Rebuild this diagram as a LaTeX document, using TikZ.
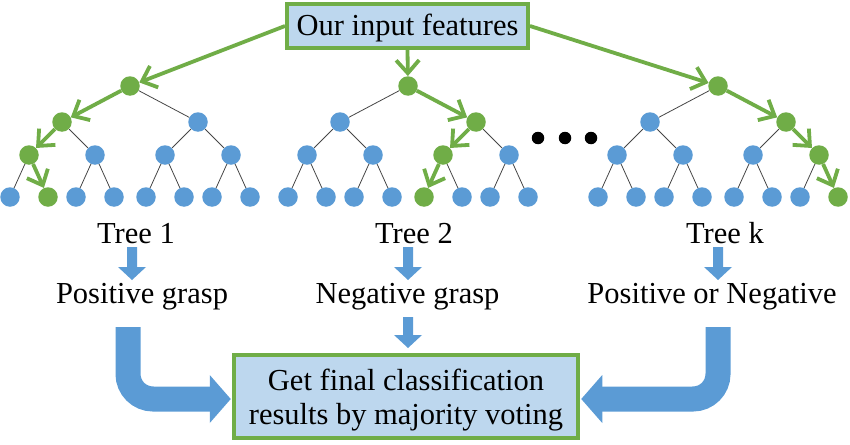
\documentclass[tikz,border=0pt]{standalone}
\usepackage{fontspec}
\setmainfont{Liberation Serif}
\usetikzlibrary{arrows.meta,calc}
\definecolor{tgreen}{RGB}{112,173,71}
\definecolor{tblue}{RGB}{91,155,213}
\definecolor{boxblue}{RGB}{189,215,238}
\definecolor{edgegray}{RGB}{70,70,70}
\newcommand\sarrow[2]{\fill[tblue] ($(#1)+(-5,0)$) -- ($(#2)+(-5,-13)$) -- ($(#2)+(-14,-13)$) -- (#2) -- ($(#2)+(14,-13)$) -- ($(#2)+(5,-13)$) -- ($(#1)+(5,0)$) -- cycle;}
\begin{document}
\begin{tikzpicture}[x=1pt,y=-1pt,
  tn/.style={circle,inner sep=0pt,minimum size=19.5pt,draw=none},
  tedge/.style={draw=edgegray,line width=0.8pt},
  garrow/.style={draw=tgreen,line width=3.8pt,-{Straight Barb[length=13pt,width=23pt]}},
  lbl/.style={font=\fontsize{30.5pt}{34pt}\selectfont,inner sep=0pt,anchor=base},
  inbox/.style={draw=tgreen,line width=4pt,fill=boxblue,minimum width=241pt,minimum height=44pt,
    inner sep=0pt,text height=21pt,text depth=1pt,font=\fontsize{30.5pt}{34pt}\selectfont},
  outbox/.style={draw=tgreen,line width=4.5pt,fill=boxblue,minimum width=344pt,minimum height=83pt,
    inner sep=0pt,align=center,text height=55pt,text depth=0pt,font=\fontsize{30.5pt}{34pt}\selectfont},
  bigshaft/.style={draw=tblue,line width=25pt,rounded corners=25pt},
  dot/.style={circle,fill=black,inner sep=0pt,minimum size=12.5pt}
]
\useasboundingbox (0,0) rectangle (850,444);

% input box
\node[inbox] (in) at (407.5,26) {Our input features};

% trees
\foreach \tr/\rx/\ga/\gb/\gc in {1/130/2/4/9, 2/408/3/6/12, k/718/3/7/15}{
  \foreach \i/\dx/\yy in {1/0/86, 2/-68/122, 3/68/122, 4/-101/155, 5/-35/155, 6/35/155, 7/101/155,
     8/-120/197, 9/-82/197, 10/-54/197, 11/-16/197, 12/16/197, 13/54/197, 14/82/197, 15/120/197}{
    \def\col{tblue}
    \ifnum\i=1 \def\col{tgreen}\fi
    \ifnum\i=\ga \def\col{tgreen}\fi
    \ifnum\i=\gb \def\col{tgreen}\fi
    \ifnum\i=\gc \def\col{tgreen}\fi
    \node[tn,fill=\col] (t\tr-\i) at (\rx+\dx,\yy) {};
  }
  \foreach \i in {2,...,15}{
    \pgfmathtruncatemacro\pp{\i/2}
    \def\isg{0}
    \ifnum\i=\ga \def\isg{1}\fi
    \ifnum\i=\gb \def\isg{1}\fi
    \ifnum\i=\gc \def\isg{1}\fi
    \ifnum\isg=1
      \draw[garrow] (t\tr-\pp) -- (t\tr-\i);
    \else
      \draw[tedge] (t\tr-\pp) -- (t\tr-\i);
    \fi
  }
}

% arrows from input box to roots
\draw[garrow] (in.west) -- (t1-1);
\draw[garrow] (in.south) -- (t2-1);
\draw[garrow] (in.east) -- (tk-1);

% dots
\node[dot] (d1) at (538,138) {};
\node[dot] (d2) at (565,138) {};
\node[dot] (d3) at (591,138) {};

% labels
\node[lbl] (tr1) at (136,243) {Tree 1};
\node[lbl] (tr2) at (414,243) {Tree 2};
\node[lbl] (trk) at (725,243) {Tree k};
\node[lbl] (res1) at (142,303) {Positive grasp};
\node[lbl] (res2) at (407.5,303) {Negative grasp};
\node[lbl] (resk) at (712,303) {Positive or Negative};

% small blue arrows
\coordinate (a1s) at (132,247); \coordinate (a1e) at (132,280);
\coordinate (a2s) at (408,247); \coordinate (a2e) at (408,280);
\coordinate (aks) at (718,247); \coordinate (ake) at (718,280);
\coordinate (a3s) at (408,317); \coordinate (a3e) at (408,348);
\sarrow{a1s}{a1e}
\sarrow{a2s}{a2e}
\sarrow{aks}{ake}
\sarrow{a3s}{a3e}

% output box
\node[outbox] (out) at (406,396.5) {Get final classification\\results by majority voting};

% big bent arrows
\coordinate (lt) at ($(out.west)+(-1,2.5)$);
\coordinate (rt) at ($(out.east)+(1,2.5)$);
\coordinate (ls) at (128,327);
\coordinate (rs) at (718,327);
\draw[bigshaft] (ls) |- ($(lt)+(-20,0)$);
\fill[tblue] ($(lt)+(-21,-24)$) -- (lt) -- ($(lt)+(-21,24)$) -- cycle;
\draw[bigshaft] (rs) |- ($(rt)+(20,0)$);
\fill[tblue] ($(rt)+(21,-24)$) -- (rt) -- ($(rt)+(21,24)$) -- cycle;
\end{tikzpicture}
\end{document}
